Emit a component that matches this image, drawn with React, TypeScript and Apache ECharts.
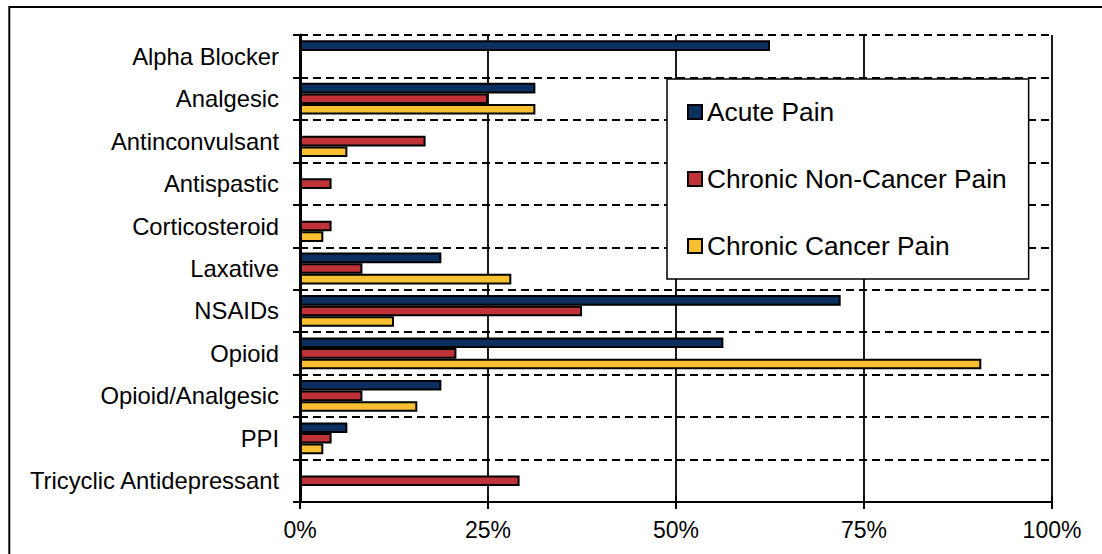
import React, { useEffect, useRef } from "react";
import * as echarts from "echarts";

const categories = [
  "Alpha Blocker",
  "Analgesic",
  "Antinconvulsant",
  "Antispastic",
  "Corticosteroid",
  "Laxative",
  "NSAIDs",
  "Opioid",
  "Opioid/Analgesic",
  "PPI",
  "Tricyclic Antidepressant",
];

const seriesNames = ["Acute Pain", "Chronic Non-Cancer Pain", "Chronic Cancer Pain"];

const acutePain = [62.5, 31.3, null, null, null, 18.8, 71.9, 56.3, 18.8, 6.3, null];
const chronicNonCancerPain = [null, 25.0, 16.7, 4.2, 4.2, 8.3, 37.5, 20.8, 8.3, 4.2, 29.2];
const chronicCancerPain = [null, 31.3, 6.3, null, 3.1, 28.1, 12.5, 90.6, 15.6, 3.1, null];

const xTicks = { min: 0, max: 100, interval: 25 };

const colors = ["#0B2F5E", "#BE3238", "#F8BF31"];

const FONT = "'Liberation Sans', Arial, sans-serif";

export default function App() {
  const ref = useRef<HTMLDivElement>(null);

  useEffect(() => {
    document.body.style.margin = "0";
    document.body.style.overflow = "hidden";
    if (!ref.current) return;
    const chart = echarts.init(ref.current, null, { renderer: "svg" });
    const values = [acutePain, chronicNonCancerPain, chronicCancerPain];

    const option: any = {
      animation: false,
      backgroundColor: "#ffffff",
      textStyle: { fontFamily: FONT, color: "#000" },
      grid: { left: 300, top: 35, width: 752, height: 467, containLabel: false },
      legend: {
        orient: "vertical",
        left: 667,
        top: 79,
        padding: [20, 22, 20, 20],
        itemGap: 41,
        itemWidth: 14,
        itemHeight: 14,
        icon: "rect",
        backgroundColor: "#ffffff",
        borderColor: "#000",
        borderWidth: 1.5,
        textStyle: { fontSize: 26.3, color: "#000", fontFamily: FONT },
        data: seriesNames,
        z: 10,
      },
      xAxis: [
        {
          type: "value",
          position: "bottom",
          min: xTicks.min,
          max: xTicks.max,
          interval: xTicks.interval,
          axisLine: { show: true, lineStyle: { color: "#000", width: 2.2 } },
          axisTick: { show: true, inside: false, length: 7, lineStyle: { color: "#000", width: 2 } },
          axisLabel: {
            formatter: "{value}%",
            fontSize: 23,
            color: "#000",
            fontFamily: FONT,
            margin: 16,
          },
          splitLine: { show: true, lineStyle: { color: "#000", width: 1.8, type: "solid" } },
        },
        {
          type: "value",
          position: "bottom",
          min: xTicks.min,
          max: xTicks.max,
          interval: xTicks.interval,
          z: 5,
          axisLine: { show: false },
          axisTick: { show: true, inside: true, length: 6, lineStyle: { color: "#000", width: 2 } },
          axisLabel: { show: false },
          splitLine: { show: false },
        },
      ],
      yAxis: [
        {
          type: "category",
          data: categories,
          inverse: true,
          position: "left",
          z: 5,
          axisLine: { show: true, lineStyle: { color: "#000", width: 3 } },
          axisTick: { show: true, inside: false, length: 7, lineStyle: { color: "#000", width: 2 } },
          axisLabel: { fontSize: 23.8, color: "#000", fontFamily: FONT, margin: 21 },
          splitLine: {
            show: true,
            interval: 0,
            lineStyle: { color: "#000", width: 2, type: [8, 5] },
          },
        },
        {
          type: "category",
          data: categories,
          inverse: true,
          position: "left",
          z: 5,
          axisLine: { show: false },
          axisTick: { show: true, inside: true, length: 5, lineStyle: { color: "#000", width: 2 } },
          axisLabel: { show: false },
          splitLine: { show: false },
        },
      ],
      series: seriesNames.map((name, i) => ({
        name,
        type: "bar",
        xAxisIndex: 0,
        yAxisIndex: 0,
        data: values[i],
        barWidth: 10.6,
        barGap: "0%",
        itemStyle: { color: colors[i], borderColor: "#000", borderWidth: 2 },
      })),
      graphic: [
        {
          type: "rect",
          silent: true,
          z: 100,
          shape: { x: 9.3, y: 7, width: 1300, height: 800 },
          style: { fill: "none", stroke: "#000", lineWidth: 2 },
        },
      ],
    };

    chart.setOption(option);
    return () => chart.dispose();
  }, []);

  return <div ref={ref} style={{ width: 1102, height: 554 }} />;
}
